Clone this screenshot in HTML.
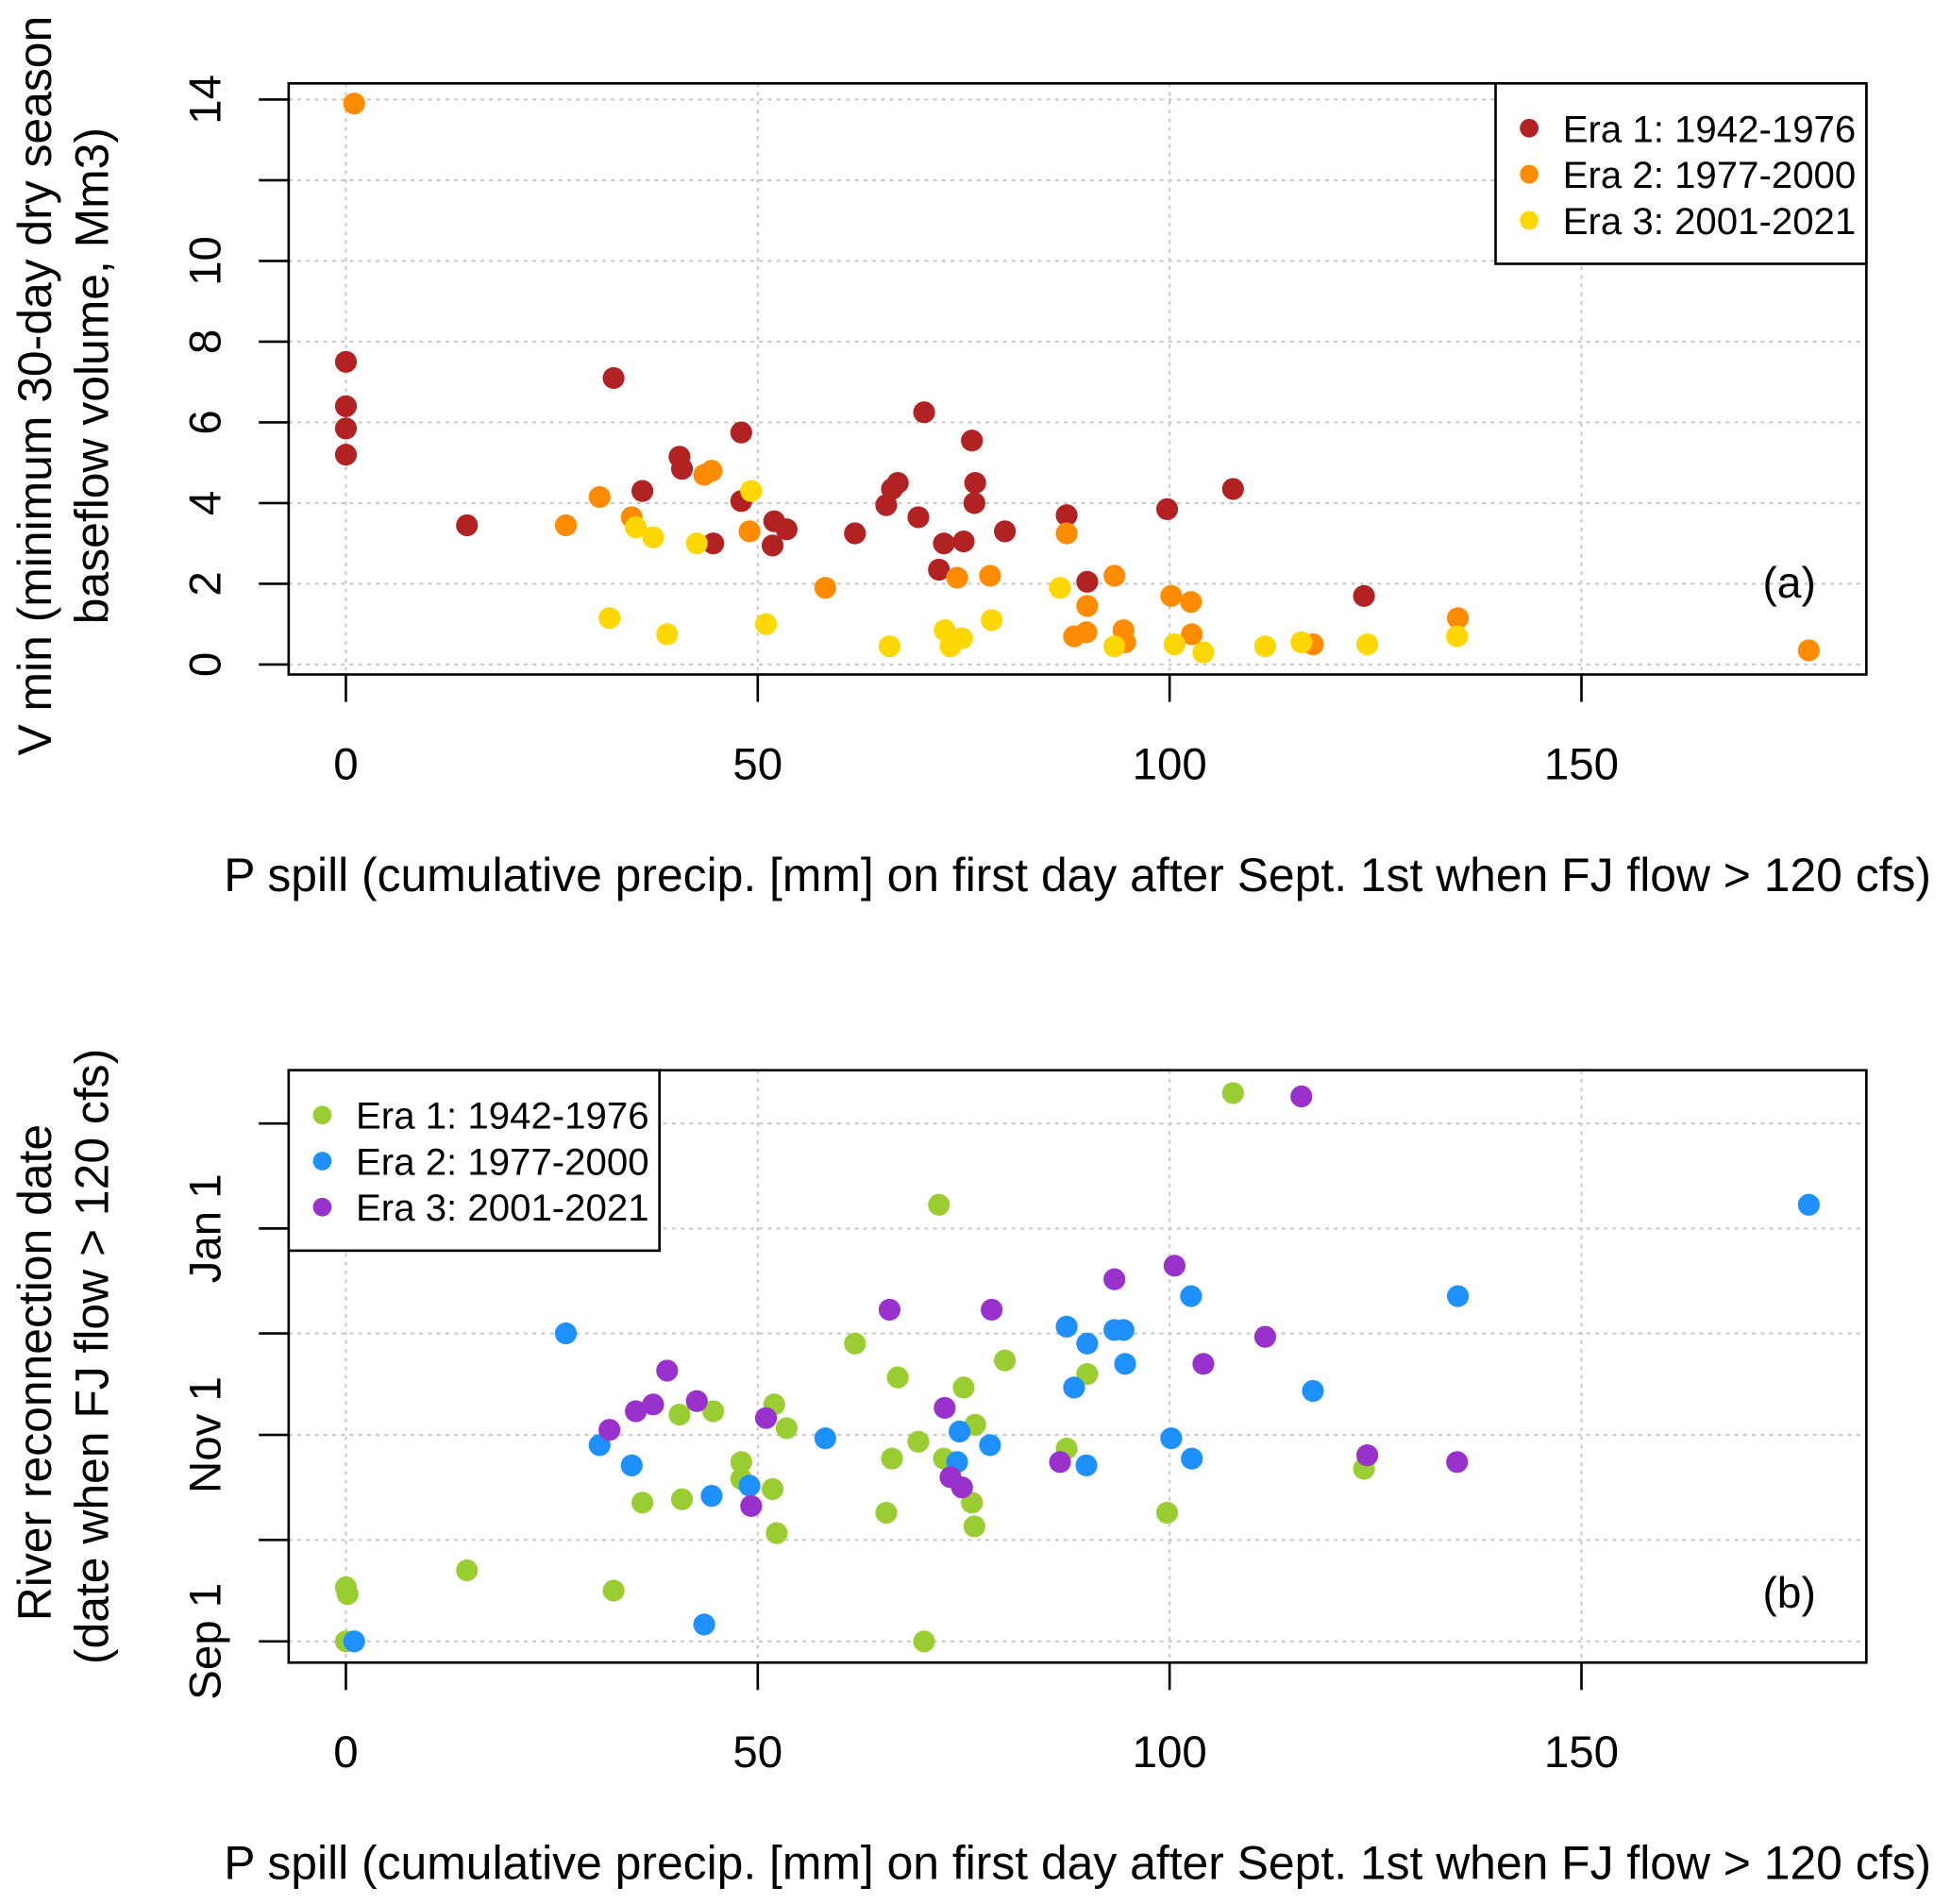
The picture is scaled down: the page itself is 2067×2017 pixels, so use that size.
<!DOCTYPE html>
<html><head><meta charset="utf-8"><style>html,body{margin:0;padding:0;background:#fff}svg{display:block}text{font-family:"Liberation Sans",Arial,sans-serif;fill:#000}</style></head>
<body>
<svg id="chart" width="2067" height="2017" viewBox="0 0 1568 1530" preserveAspectRatio="none" xmlns="http://www.w3.org/2000/svg"></svg>
<script>
// Panel (a) data: [P spill mm, V min Mm3]
const eraA1 = [[0,7.5],[0,6.4],[0,5.85],[0,5.2],[14.7,3.45],[32.5,7.1],[36,4.3],[40.5,5.15],[40.8,4.85],[44.6,3.0],[48,5.75],[48,4.05],[52,3.55],[51.8,2.95],[53.5,3.35],[61.8,3.25],[65.6,3.95],[66.3,4.35],[67,4.5],[69.5,3.65],[70.2,6.25],[72,2.35],[72.6,3.0],[75,3.05],[76,5.55],[76.4,4.5],[76.3,4.0],[80,3.3],[87.5,3.7],[90,2.05],[99.7,3.85],[107.7,4.35],[123.6,1.7]];
const eraA2 = [[1,13.9],[26.7,3.45],[30.8,4.15],[34.7,3.65],[43.5,4.7],[44.4,4.8],[49,3.3],[58.2,1.9],[74.2,2.15],[78.2,2.2],[87.5,3.25],[88.4,0.7],[89.9,0.8],[90,1.45],[93.3,2.2],[94.4,0.85],[94.6,0.55],[100.2,1.7],[102.6,1.55],[102.7,0.75],[117.4,0.5],[135,1.15],[177.6,0.35]];
const eraA3 = [[32,1.15],[35.2,3.4],[37.3,3.15],[39,0.75],[42.6,3.0],[49.2,4.3],[51,1.0],[66,0.45],[72.7,0.85],[73.4,0.45],[74.8,0.65],[78.4,1.1],[86.7,1.9],[93.3,0.45],[100.6,0.5],[104.1,0.3],[111.6,0.45],[116,0.55],[124,0.5],[134.9,0.7]];
// Panel (b) data: [P spill mm, days after Sep 1]
const eraB1 = [[0,16],[0.2,14],[0,0],[14.7,21],[32.5,15],[36,41],[40.5,67],[40.8,42],[44.6,68],[48,53],[48,48],[52,70],[51.8,45],[52.3,32],[53.5,63],[61.8,88],[65.6,38],[66.3,54],[67,78],[69.5,59],[70.2,0],[72,129],[72.6,54],[75,75],[76,41],[76.4,64],[76.3,34],[80,83],[87.5,57],[90,79],[99.7,38],[107.7,162],[123.6,51]];
const eraB2 = [[1,0],[26.7,91],[30.8,58],[34.7,52],[43.5,5],[44.4,43],[49,46],[58.2,60],[74.2,53],[74.5,62],[78.2,58],[87.5,93],[88.4,75],[89.9,52],[90,88],[93.3,92],[94.4,92],[94.6,82],[100.2,60],[102.6,102],[102.7,54],[117.4,74],[135,102],[177.6,129]];
const eraB3 = [[32,62.5],[35.2,68],[37.3,70],[39,80],[42.6,71],[49.2,40],[51,66],[66,98],[72.7,69],[73.4,48.5],[74.8,45.5],[78.4,98],[86.7,53],[93.3,107],[100.6,111],[104.1,82],[111.6,90],[116,161],[124,55],[134.9,53]];
const xTicks = [0,50,100,150];
const yTicksA = [0,2,4,6,8,10,12,14];
const yLabelsA = ["0","2","4","6","8","10","","14"];
const yTicksB = [0,30,61,91,122,153];
const yLabelsB = ["Sep 1","","Nov 1","","Jan 1",""];
const legendLabels = ["Era 1: 1942-1976","Era 2: 1977-2000","Era 3: 2001-2021"];

const svg=document.getElementById('chart');
const NS='http://www.w3.org/2000/svg';
function mk(tag,attrs,parent,txt){const e=document.createElementNS(NS,tag);for(const k in attrs)e.setAttribute(k,attrs[k]);if(txt!==undefined)e.textContent=txt;(parent||svg).appendChild(e);return e;}
const xs=v=>278+v*6.62;

function panel(o){
  const g=mk('g',{});
  
  
  const ys=o.ys;
  xTicks.forEach(t=>{const l=mk('line',{x1:xs(t),x2:xs(t),y1:o.top,y2:o.bot,stroke:'#c8c8c8','stroke-width':1.6,'stroke-dasharray':'3,4'},g);});
  o.yt.forEach(t=>{const l=mk('line',{x1:232,x2:1500,y1:ys(t),y2:ys(t),stroke:'#c8c8c8','stroke-width':1.6,'stroke-dasharray':'3,4'},g);});
  o.series.forEach((s,i)=>{s.forEach(p=>{const c=mk('circle',{cx:xs(p[0]),cy:ys(p[1]),r:8.8,fill:o.colors[i]},g);});});
  const b=mk('rect',{x:232,y:o.top,width:1268,height:o.bot-o.top,fill:'none',stroke:'#000','stroke-width':2},g);
  
  xTicks.forEach(t=>{mk('line',{x1:xs(t),x2:xs(t),y1:o.bot,y2:o.bot+22,stroke:'#000','stroke-width':2},g);
    const tx=mk('text',{x:xs(t),y:o.bot+84,'font-size':36,'text-anchor':'middle'},g,String(t));});
  o.yt.forEach((t,i)=>{mk('line',{x1:208,x2:232,y1:ys(t),y2:ys(t),stroke:'#000','stroke-width':2},g);
    if(o.yl[i]){const tx=mk('text',{x:0,y:0,'font-size':36,'text-anchor':'middle',transform:`translate(177,${ys(t)}) rotate(-90)`},g,o.yl[i]);}});
  const xt=mk('text',{x:866,y:o.xTitleY,'font-size':37.8,'text-anchor':'middle'},g,'P spill (cumulative precip. [mm] on first day after Sept. 1st when FJ flow > 120 cfs)');
  
  o.yTitle.forEach((s,i)=>{const t=mk('text',{x:0,y:0,'font-size':37.8,'text-anchor':'middle',transform:`translate(${41+i*46},${o.yTitleC[i]}) rotate(-90)`},g,s);});
  const pl=mk('text',{x:1438,y:o.labelY,'font-size':35,'text-anchor':'middle'},g,o.label);
  
  const lg=mk('g',{},g);
  mk('rect',{x:o.lx,y:o.ly,width:298,height:145,fill:'#fff',stroke:'#000','stroke-width':2},lg);
  legendLabels.forEach((s,i)=>{const e=mk('g',{},lg);
    mk('circle',{cx:o.lx+27,cy:o.ly+36+i*37,r:7.5,fill:o.colors[i]},e);
    mk('text',{x:o.lx+54,y:o.ly+47+i*37,'font-size':30.5},e,s);});
}
panel({name:'panel-a',top:67,bot:542,ys:v=>534-v*32.43,yt:yTicksA,yl:yLabelsA,series:[eraA1,eraA2,eraA3],colors:['#b22222','#ff8c00','#ffd700'],xTitleY:716,yTitle:['V min (minimum 30-day dry season','baseflow volume, Mm3)'],yTitleC:[310,302],label:'(a)',labelY:480,lx:1202,ly:67});
panel({name:'panel-b',top:860,bot:1336,ys:v=>1319-v*2.72,yt:yTicksB,yl:yLabelsB,series:[eraB1,eraB2,eraB3],colors:['#9acd32','#1e90ff','#9932cc'],xTitleY:1510,yTitle:['River reconnection date','(date when FJ flow > 120 cfs)'],yTitleC:[1103,1090],label:'(b)',labelY:1292,lx:232,ly:860});
</script>
</body></html>
